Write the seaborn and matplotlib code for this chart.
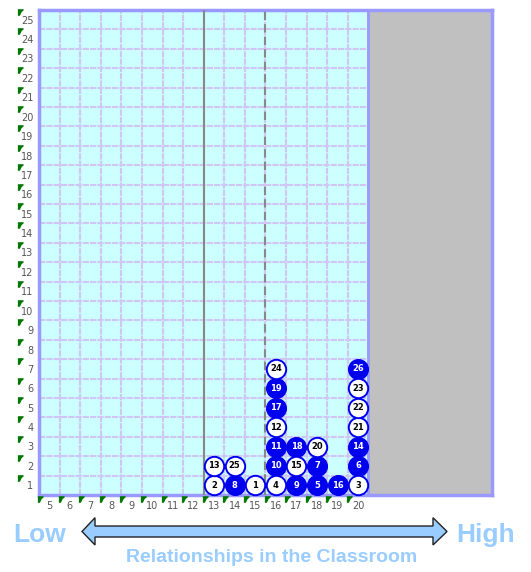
import matplotlib
matplotlib.use("Agg")
import matplotlib.pyplot as plt
import matplotlib.patches as mpatches
import pandas as pd
import seaborn as sns

# student positions: column (score), row (stack), student number, filled?
col = [13, 13, 14, 14, 15,
       16, 16, 16, 16, 16, 16, 16,
       17, 17, 17, 18, 18, 18, 19,
       20, 20, 20, 20, 20, 20, 20]
row = [1, 2, 1, 2, 1,
       1, 2, 3, 4, 5, 6, 7,
       1, 2, 3, 1, 2, 3, 1,
       1, 2, 3, 4, 5, 6, 7]
student = [2, 13, 8, 25, 1,
           4, 10, 11, 12, 17, 19, 24,
           9, 15, 18, 5, 7, 20, 16,
           3, 6, 14, 21, 22, 23, 26]
filled = [0, 0, 1, 0, 0,
          0, 1, 1, 0, 1, 1, 0,
          1, 0, 1, 1, 1, 0, 1,
          0, 1, 1, 0, 0, 0, 1]

x_ticks = list(range(5, 21))
y_ticks = list(range(1, 26))

df = pd.DataFrame({"col": col, "row": row, "student": student, "filled": filled})

W, H = 531, 572
fig = plt.figure(figsize=(W / 100, H / 100), dpi=100)
ax = fig.add_axes([39 / W, 1 - 495 / H, (492 - 39) / W, (495 - 10) / H])
ax.set_facecolor("#ccffff")
ax.set_xlim(4.5, 26.5)
ax.set_ylim(0.5, 25.5)

# grid at cell boundaries
for v in range(5, 21):
    ax.axvline(v + 0.5, color="#d0c6f4", lw=1.5, ls=(0, (3, 0.5)), zorder=1)
for h in range(1, 26):
    ax.axhline(h + 0.5, color="#d0c6f4", lw=1.5, ls=(0, (3, 0.5)), zorder=1)
ax.axvspan(20.5, 26.5, color="#c0c0c0", zorder=2)
ax.axvline(20.5, color="#9999ff", lw=2, zorder=3)
ax.axvline(12.5, color="#888888", lw=1.5, zorder=3)
ax.axvline(15.5, color="#888888", lw=1.5, ls=(0, (4, 2)), zorder=3)

for s in ax.spines.values():
    s.set_color("#9999ff")
    s.set_linewidth(2.5)

sns.scatterplot(data=df[df["filled"] == 1], x="col", y="row", s=195,
                color="#0000ee", edgecolor="#0000ee", linewidth=1.2,
                ax=ax, zorder=5, clip_on=False)
sns.scatterplot(data=df[df["filled"] == 0], x="col", y="row", s=195,
                color="white", edgecolor="#0000ee", linewidth=1.4,
                ax=ax, zorder=5, clip_on=False)
for c, r, n, f in zip(col, row, student, filled):
    ax.text(c, r, str(n), ha="center", va="center", fontsize=6,
            fontweight="bold", color="white" if f else "black", zorder=6)

ax.set_xlabel("")
ax.set_ylabel("")
ax.set_xticks(x_ticks)
ax.set_xticklabels([str(v) for v in x_ticks], fontsize=7, color="#555555")
ax.set_yticks(y_ticks)
ax.set_yticklabels([str(v) for v in y_ticks], fontsize=7, color="#555555")
ax.tick_params(length=0, pad=4)

# small green flags beside tick labels
flag = [(-1, 1), (1, 1), (0.2, 0.3), (-0.4, -1), (-1, -1)]
ax.scatter([3.6] * len(y_ticks), [v + 0.4 for v in y_ticks], marker=flag,
           s=14, color="#007700", clip_on=False, zorder=6)
ax.scatter([v - 0.45 for v in x_ticks], [0.3] * len(x_ticks), marker=flag,
           s=14, color="#007700", clip_on=False, zorder=6)

# double arrow below the chart
def fx(px):
    return px / W


def fy(py):
    return 1 - py / H


pts = [(82, 531.5), (95, 517.7), (95, 526), (433, 526), (433, 517.7),
       (447, 531.5), (433, 545), (433, 537), (95, 537), (95, 545)]
fig.patches.append(mpatches.Polygon([(fx(a), fy(b)) for a, b in pts],
                                    closed=True, transform=fig.transFigure,
                                    facecolor="#99ccff", edgecolor="#222222",
                                    lw=1))

fig.text(fx(40), fy(535), "Low", ha="center", va="center", fontsize=19,
         fontweight="bold", color="#99ccff", family="Liberation Sans")
fig.text(fx(486), fy(535), "High", ha="center", va="center", fontsize=19,
         fontweight="bold", color="#99ccff", family="Liberation Sans")
fig.text(fx(272), fy(558), "Relationships in the Classroom", ha="center",
         va="center", fontsize=14, fontweight="bold", color="#99ccff",
         family="Liberation Sans")

fig.savefig("out.png", dpi=100)
